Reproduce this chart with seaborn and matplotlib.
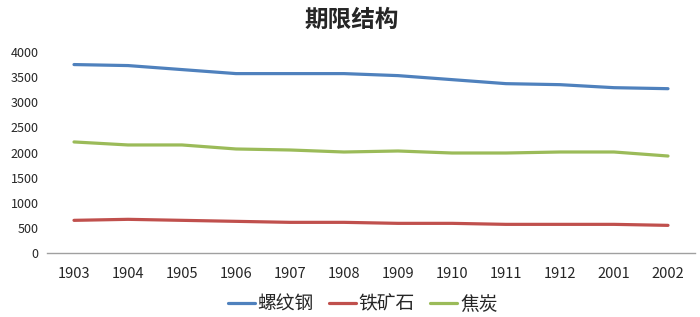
import matplotlib
matplotlib.use("Agg")
import matplotlib.pyplot as plt
import seaborn as sns
import pandas as pd

categories = ["1903", "1904", "1905", "1906", "1907", "1908", "1909", "1910", "1911", "1912", "2001", "2002"]
rebar = [3750, 3730, 3650, 3570, 3570, 3570, 3530, 3450, 3370, 3350, 3290, 3270]
iron_ore = [650, 670, 650, 630, 610, 610, 590, 590, 570, 570, 570, 550]
coke = [2210, 2150, 2150, 2070, 2050, 2010, 2030, 1990, 1990, 2010, 2010, 1930]
series_names = ["螺纹钢", "铁矿石", "焦炭"]
colors = ["#4F81BD", "#C0504D", "#9BBB59"]

sns.set_theme(style="white")
plt.rcParams['font.family'] = ['Noto Sans CJK SC', 'DejaVu Sans']

rows = []
for name, vals in zip(series_names, [rebar, iron_ore, coke]):
    for i, (c, v) in enumerate(zip(categories, vals)):
        rows.append({"idx": i, "cat": c, "value": v, "series": name})
df = pd.DataFrame(rows)

fig = plt.figure(figsize=(7.0, 3.17), dpi=100)
ax = fig.add_axes([47/700, 1 - 253/317, 648/700, 201/317])
sns.lineplot(data=df, x="idx", y="value", hue="series", hue_order=series_names,
             palette=colors, linewidth=2.3, ax=ax, legend=True)

ax.set_xlim(-0.5, len(categories) - 0.5)
ax.set_ylim(0, 4000)
ax.set_xticks(range(len(categories)))
ax.set_xticklabels(categories, fontsize=10.5)
ax.set_yticks(range(0, 4001, 500))
ax.tick_params(axis='y', labelsize=9, pad=6, length=0)
ax.tick_params(axis='x', pad=10, length=0)
ax.set_xlabel("")
ax.set_ylabel("")
for s in ["top", "right", "left"]:
    ax.spines[s].set_visible(False)
ax.spines["bottom"].set_color("#A0A0A0")
ax.spines["bottom"].set_linewidth(1)

fig.text(0.503, 1 - 20/317, "期限结构", ha="center", va="center", fontsize=17, fontweight="bold")

handles, labels = ax.get_legend_handles_labels()
ax.legend(handles, labels, loc="center", bbox_to_anchor=(0.487, -0.255), ncol=3, frameon=False,
          fontsize=13.5, handlelength=1.45, handletextpad=0.15, columnspacing=0.8)

fig.savefig("out.png", dpi=100, facecolor="white")
